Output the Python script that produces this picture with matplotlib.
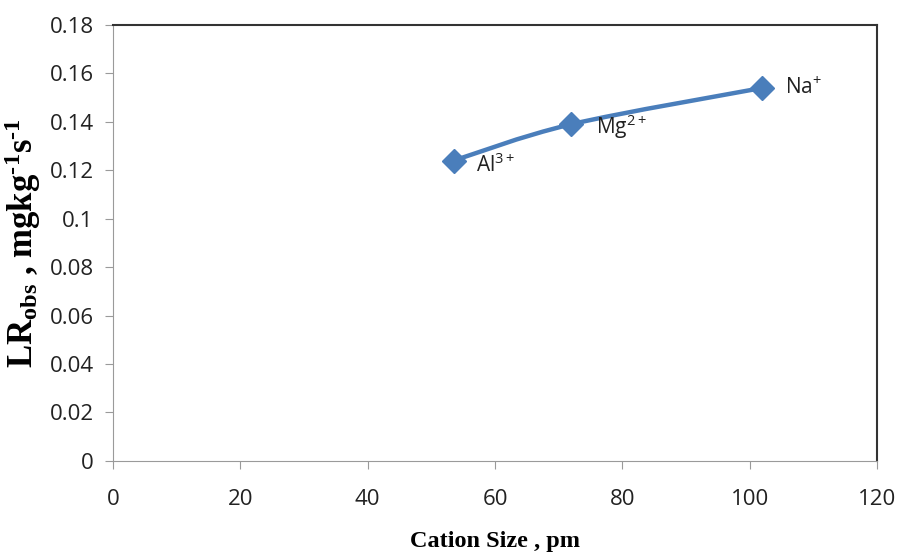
import matplotlib
matplotlib.use('Agg')
import matplotlib.pyplot as plt
from matplotlib.path import Path
from matplotlib.patches import PathPatch

cation_size = [53.5, 72, 102]
lr_obs = [0.124, 0.139, 0.154]
labels = ['Al$^{3+}$', 'Mg$^{2+}$', 'Na$^{+}$']
label_offsets = [(16, -3), (18, -2), (16, 0)]

plt.rcParams['mathtext.default'] = 'regular'

fig = plt.figure(figsize=(8.97, 5.54), dpi=100)
ax = fig.add_axes([0.126, 0.168, 0.8517, 0.787])

# smoothed line (Excel style), Catmull-Rom through the points as cubic Bezier
pts = list(zip(cation_size, lr_obs))
verts = [pts[0]]
codes = [Path.MOVETO]
for i in range(len(pts) - 1):
    p0 = pts[i - 1] if i > 0 else pts[i]
    p1, p2 = pts[i], pts[i + 1]
    p3 = pts[i + 2] if i + 2 < len(pts) else p2
    c1 = (p1[0] + (p2[0] - p0[0]) / 6, p1[1] + (p2[1] - p0[1]) / 6)
    c2 = (p2[0] - (p3[0] - p1[0]) / 6, p2[1] - (p3[1] - p1[1]) / 6)
    verts += [c1, c2, p2]
    codes += [Path.CURVE4] * 3
ax.add_patch(PathPatch(Path(verts, codes), fill=False, edgecolor='#4A7EBB', lw=3.2,
                       capstyle='round', zorder=2))
ax.plot(cation_size, lr_obs, linestyle='none', marker='D', markersize=12,
        color='#4A7EBB', zorder=3)

for x, y, lab, off in zip(cation_size, lr_obs, labels, label_offsets):
    ax.annotate(lab, (x, y), xytext=off, textcoords='offset points',
                ha='left', va='center', fontsize=15, family='Open Sans', color='#222222')

ax.set_xlim(0, 120)
ax.set_ylim(0, 0.18)
ax.set_xticks(range(0, 121, 20))
ax.set_yticks([i * 0.02 for i in range(10)])
ax.set_yticklabels(['0', '0.02', '0.04', '0.06', '0.08', '0.1', '0.12', '0.14', '0.16', '0.18'])

for s in ['left', 'bottom']:
    ax.spines[s].set_color('#9a9a9a')
for s in ['top', 'right']:
    ax.spines[s].set_color('#333333')
    ax.spines[s].set_linewidth(1.5)
ax.tick_params(direction='out', length=6, color='#9a9a9a', labelsize=16)
ax.tick_params(axis='x', pad=14)
ax.tick_params(axis='y', pad=8)
for t in ax.get_xticklabels() + ax.get_yticklabels():
    t.set_family('Open Sans')
    t.set_color('#222222')

ax.set_xlabel('Cation Size , pm', family='Liberation Serif', fontweight='bold',
              fontsize=17.5, labelpad=15)
ax.set_ylabel('LR$_{obs}$ , mgkg$^{\u20101}$s$^{\u20101}$', family='Liberation Serif',
              fontweight='bold', fontsize=25, labelpad=5)

fig.savefig('out.png', dpi=100)
